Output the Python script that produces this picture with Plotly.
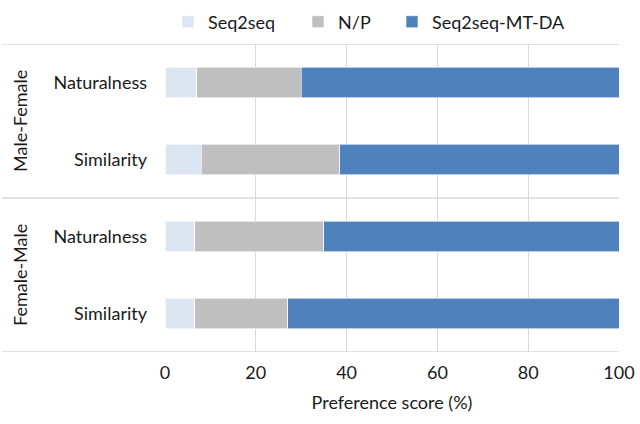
import plotly.graph_objects as go

groups = ["Male-Female", "Female-Male"]
categories = ["Naturalness", "Similarity", "Naturalness", "Similarity"]
seq2seq = [7.0, 8.0, 6.5, 6.5]
np_vals = [23.0, 30.5, 28.5, 20.5]
mtda = [70.0, 61.5, 65.0, 73.0]
series_names = ["Seq2seq", "N/P", "Seq2seq-MT-DA"]
colors = ["#dce6f2", "#bfbfbf", "#4f81bd"]
x_ticks = [0, 20, 40, 60, 80, 100]

ypos = [3, 2, 1, 0]
FONT = "Lato"
TXT = "#1a1a1a"
FS = 18

W, H = 640, 424
l, r, t, b = 165, 21, 44, 72
pw = W - l - r
ph = H - t - b
left_ext = -(l - 2) / pw

legend_names = ["legend", "legend2", "legend3"]
legend_text_px = [208, 338, 432]

fig = go.Figure()
for name, vals, c, lg in zip(series_names, [seq2seq, np_vals, mtda], colors, legend_names):
    fig.add_trace(go.Bar(
        y=ypos, x=vals, name=name, orientation="h", legend=lg, showlegend=True,
        marker=dict(color=c, line=dict(color="white", width=0.6)),
    ))

shapes = []
for yv in [3.5, 1.5, -0.5]:
    shapes.append(dict(type="line", xref="paper", yref="y", x0=left_ext, x1=1,
                       y0=yv, y1=yv, line=dict(color="#d9d9d9", width=1.3), layer="below"))

annotations = []
for g, yc in zip(groups, [2.5, 0.5]):
    annotations.append(dict(text=g, xref="paper", yref="y", x=(20 - l) / pw, y=yc,
                            textangle=-90, showarrow=False, xanchor="center", yanchor="middle",
                            font=dict(family=FONT, size=FS, color=TXT)))

legends = {}
for lg, px in zip(legend_names, legend_text_px):
    legends[lg] = dict(orientation="h", x=(px - 40 - l) / pw, y=1 + (t - 22) / ph,
                       xanchor="left", yanchor="middle",
                       font=dict(family=FONT, size=FS, color=TXT),
                       itemwidth=30, bgcolor="rgba(0,0,0,0)")

fig.update_layout(
    width=W, height=H,
    margin=dict(l=l, r=r, t=t, b=b, autoexpand=False),
    barmode="stack", bargap=0.6, showlegend=True,
    plot_bgcolor="white", paper_bgcolor="white",
    font=dict(family=FONT, size=FS, color=TXT),
    shapes=shapes, annotations=annotations,
    **legends,
    xaxis=dict(range=[0, 100], tickvals=x_ticks, showgrid=True, gridcolor="#d9d9d9",
               gridwidth=1.3, zeroline=False, showline=False, ticks="", automargin=False,
               ticklabelstandoff=8,
               title=dict(text="Preference score (%)", standoff=14,
                          font=dict(family=FONT, size=FS, color=TXT)),
               tickfont=dict(family=FONT, size=FS, color=TXT)),
    yaxis=dict(range=[-0.5, 3.5], tickvals=ypos, ticktext=categories, showgrid=False,
               zeroline=False, showline=False, ticks="", ticklabelstandoff=17, automargin=False,
               tickfont=dict(family=FONT, size=FS, color=TXT)),
)

fig.write_html("out.html", config={"displayModeBar": False},
               post_script="document.body.style.margin='0';")
